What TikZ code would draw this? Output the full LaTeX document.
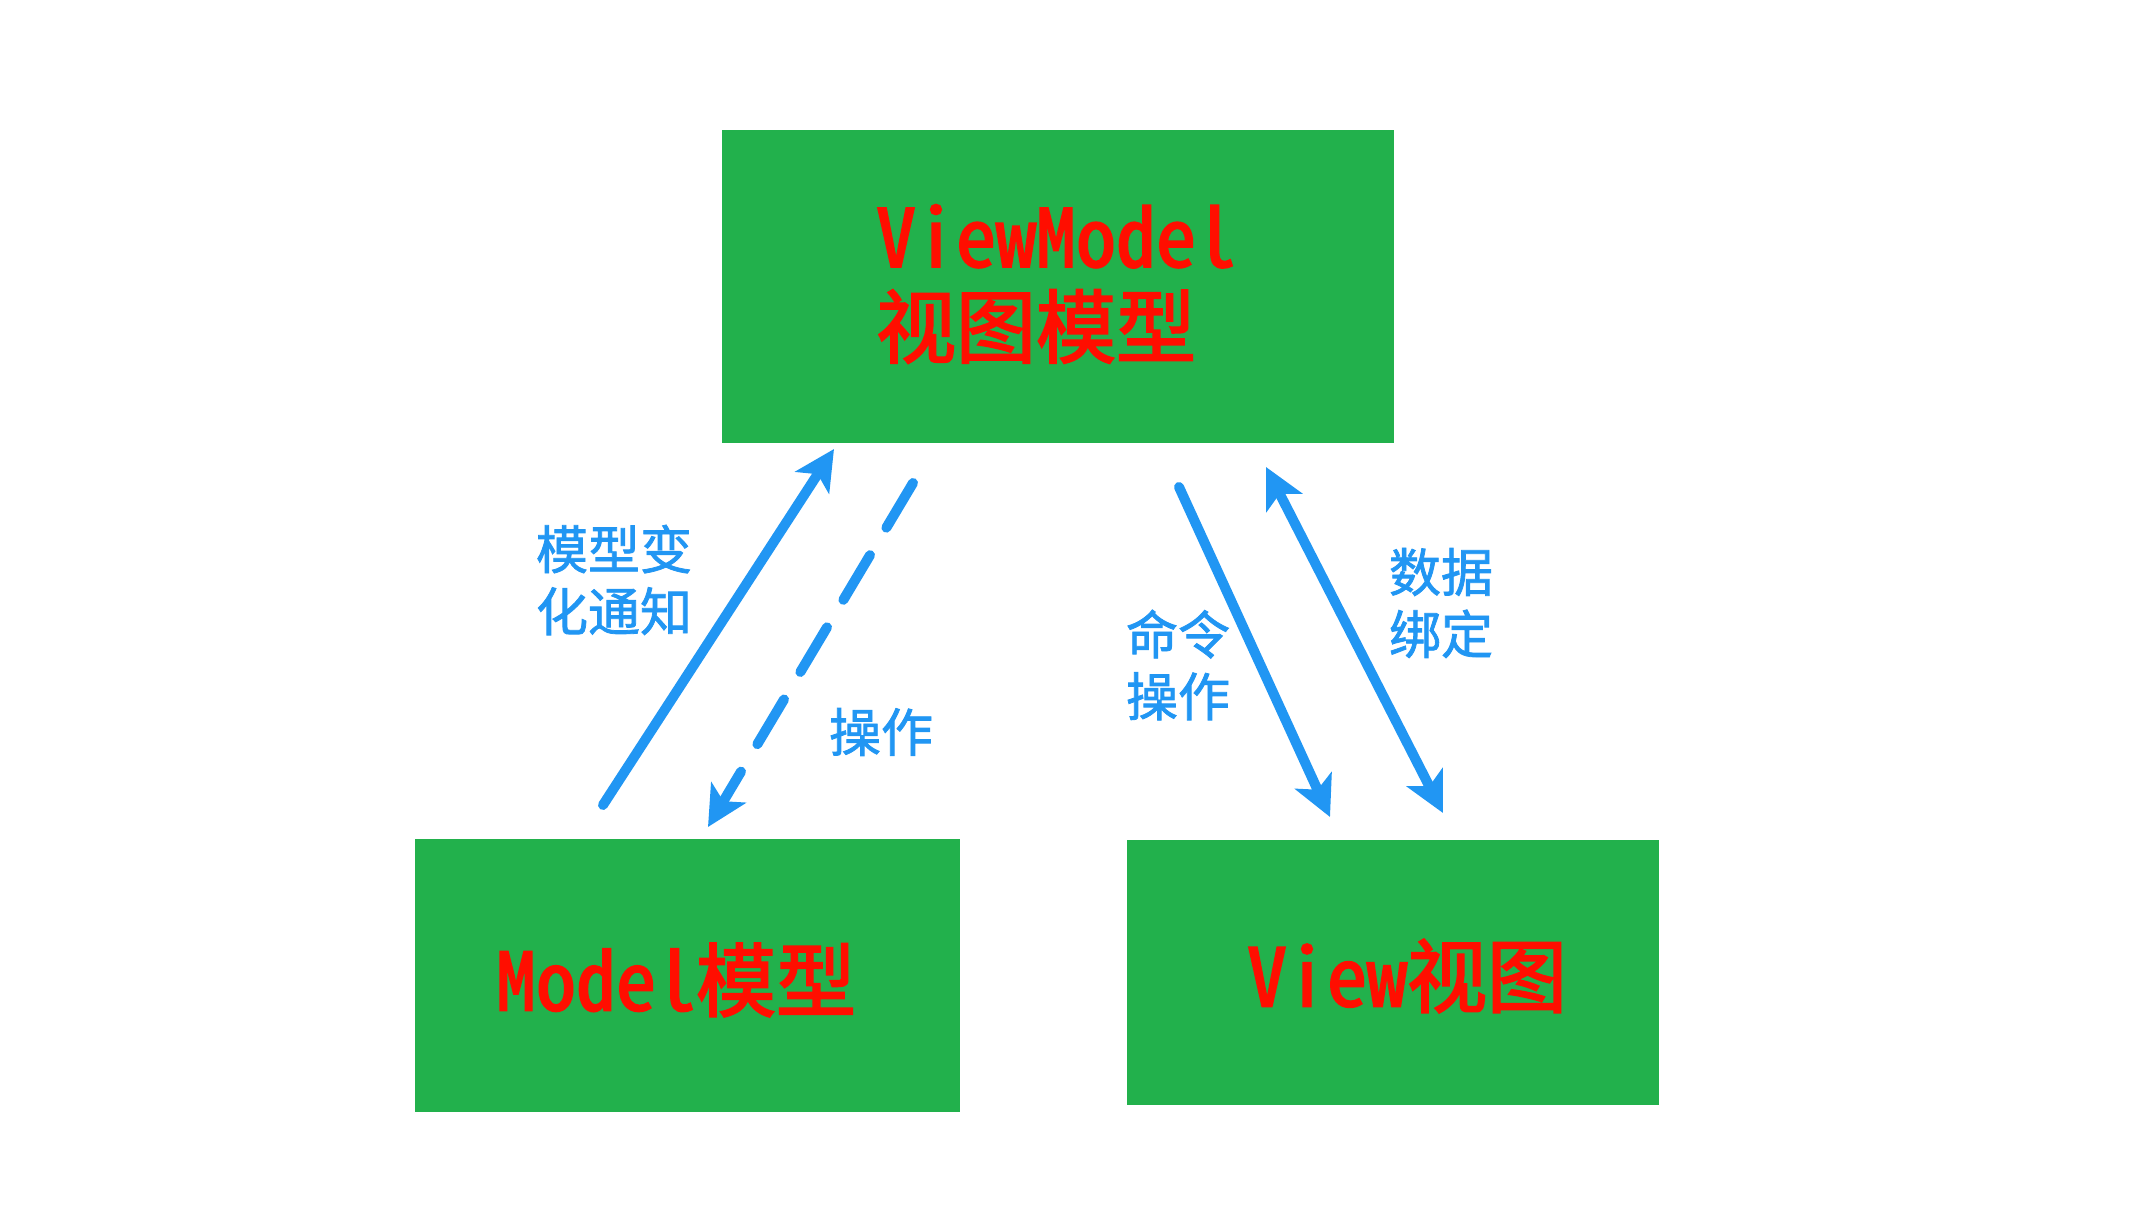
\documentclass[tikz,border=0pt]{standalone}
\usepackage{fontspec}
\setmainfont{Noto Sans CJK SC}[RawFeature=+hwid]
\newfontfamily\cjkred{Noto Sans CJK SC}[RawFeature=+hwid, FakeBold=2.5]
\newfontfamily\cjklbl{Noto Sans CJK SC}[FakeBold=1.5]
\usetikzlibrary{arrows.meta}
\definecolor{boxgreen}{RGB}{34,177,76}
\definecolor{txtred}{RGB}{255,14,0}
\definecolor{arrblue}{RGB}{33,150,243}
\tikzset{
  box/.style={rectangle, fill=boxgreen, draw=none, inner sep=0pt, anchor=north west},
  redtext/.style={text=txtred, font=\cjkred\fontsize{80}{90}\selectfont, inner sep=0pt, align=left},
  lbl/.style={text=arrblue, font=\cjklbl\fontsize{52}{62}\selectfont, inner sep=0pt, align=center},
  arr/.style={draw=arrblue, line width=10pt, line cap=round},
  tip/.tip={Stealth[length=40pt,width=40pt,inset=10pt]}
}
\begin{document}
\begin{tikzpicture}[x=1pt,y=-1pt]
\useasboundingbox (0,0) rectangle (2139,1206);
\node[box, minimum width=672pt, minimum height=313pt] (vm) at (722,130) {};
\node[box, minimum width=545pt, minimum height=273pt] (m) at (415,839) {};
\node[box, minimum width=532pt, minimum height=265pt] (v) at (1127,840) {};
\node[redtext] (vmt) at (1056,284) {ViewModel\\视图模型};
\node[redtext] (mt) at (676,980) {Model模型};
\node[redtext] (vt) at (1407,976) {View视图};
% arrow end points
\coordinate (a1s) at (603,805);
\coordinate (a1e) at (834,449);
\coordinate (a2s) at (913,483);
\coordinate (a2e) at (708,827);
\coordinate (a3s) at (1179,487);
\coordinate (a3e) at (1330,817);
\coordinate (a4s) at (1266,467);
\coordinate (a4e) at (1443,813);
\draw[arr, -{tip}] (a1s) -- (a1e);
\draw[arr, -{tip}, dash pattern=on 52pt off 32pt] (a2s) -- (a2e);
\draw[arr, -{tip}] (a3s) -- (a3e);
\draw[arr, {tip}-{tip}] (a4s) -- (a4e);
\node[lbl] (l1) at (614,580) {模型变\\化通知};
\node[lbl] (l2) at (881,732) {操作};
\node[lbl] (l3) at (1178,665) {命令\\操作};
\node[lbl] (l4) at (1441,603) {数据\\绑定};
\end{tikzpicture}
\end{document}
